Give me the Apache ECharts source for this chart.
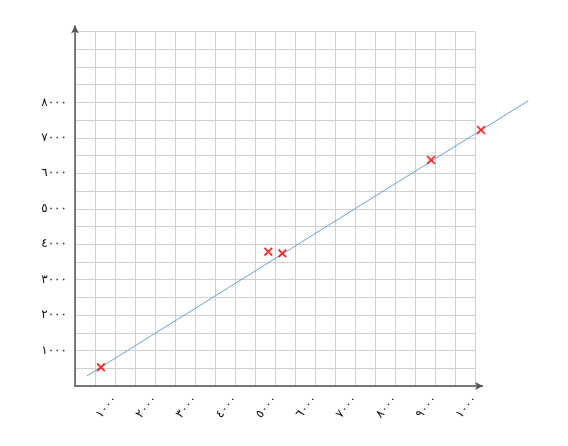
<!DOCTYPE html>
<html>
<head>
<meta charset="utf-8">
<style>
  html, body { margin: 0; padding: 0; background: #fff; }
  #chart { width: 568px; height: 446px; }
</style>
<script src="https://cdn.jsdelivr.net/npm/echarts@6/dist/echarts.min.js"></script>
</head>
<body>
<div id="chart"></div>
<script>
// measured points (red crosses)
const pointsX = [650, 4833, 5183, 8900, 10150];
const pointsY = [527, 3788, 3743, 6375, 7221];

// fitted line, two ends
const fitX = [292, 11333];
const fitY = [282, 8048];

// tick labels every 1000
const xTickLabels = ['١٠٠٠', '٢٠٠٠', '٣٠٠٠', '٤٠٠٠', '٥٠٠٠', '٦٠٠٠', '٧٠٠٠', '٨٠٠٠', '٩٠٠٠', '١٠٠٠'];
const yTickLabels = ['١٠٠٠', '٢٠٠٠', '٣٠٠٠', '٤٠٠٠', '٥٠٠٠', '٦٠٠٠', '٧٠٠٠', '٨٠٠٠'];

const chart = echarts.init(document.getElementById('chart'));

const crossPath = 'path://M0,1.5L1.5,0L5,3.5L8.5,0L10,1.5L6.5,5L10,8.5L8.5,10L5,6.5L1.5,10L0,8.5L3.5,5Z';
const axisColor = '#555';
const pxPerUnitX = 400 / 10000;   // main grid is 400px wide for 0..10000

const tickLabel = (labels) => (v) => {
  if (v % 1000 !== 0) return '';
  return labels[v / 1000 - 1] || '';
};

// second, invisible grid with the same scale but wider, so the fit line may run past the plot
const wideMax = 12000;
const wideRight = 568 - (75 + wideMax * pxPerUnitX);

chart.setOption({
  animation: false,
  grid: [
    { left: 75, right: 93, top: 31.5, bottom: 60 },
    { left: 75, right: wideRight, top: 31.5, bottom: 60 }
  ],
  xAxis: [
    {
      type: 'value',
      gridIndex: 0,
      min: 0,
      max: 10000,
      interval: 500,
      axisLine: {
        show: true,
        lineStyle: { color: axisColor, width: 1.5 },
        symbol: ['none', 'arrow'],
        symbolSize: [6, 8],
        symbolOffset: [0, 8]
      },
      axisTick: { show: false },
      splitLine: { show: true, lineStyle: { color: '#cfcfcf', width: 1 } },
      axisLabel: {
        rotate: 50,
        fontSize: 12,
        fontFamily: 'DejaVu Sans',
        color: '#111',
        margin: 11,
        formatter: tickLabel(xTickLabels)
      }
    },
    { type: 'value', gridIndex: 1, min: 0, max: wideMax, show: false }
  ],
  yAxis: [
    {
      type: 'value',
      gridIndex: 0,
      min: 0,
      max: 10000,
      interval: 500,
      axisLine: {
        show: true,
        lineStyle: { color: axisColor, width: 1.5 },
        symbol: ['none', 'arrow'],
        symbolSize: [6, 8],
        symbolOffset: [0, 6]
      },
      axisTick: { show: false },
      splitLine: { show: true, lineStyle: { color: '#cfcfcf', width: 1 } },
      axisLabel: {
        fontSize: 12,
        fontFamily: 'DejaVu Sans',
        color: '#111',
        margin: 8,
        formatter: tickLabel(yTickLabels)
      }
    },
    { type: 'value', gridIndex: 1, min: 0, max: 10000, show: false }
  ],
  series: [
    {
      type: 'line',
      xAxisIndex: 1,
      yAxisIndex: 1,
      data: fitX.map((x, i) => [x, fitY[i]]),
      showSymbol: false,
      lineStyle: { color: '#6a9fd8', width: 1 },
      z: 2
    },
    {
      type: 'scatter',
      xAxisIndex: 1,
      yAxisIndex: 1,
      data: pointsX.map((x, i) => [x, pointsY[i]]),
      symbol: crossPath,
      symbolSize: 9,
      itemStyle: { color: '#ff0000' },
      z: 3
    }
  ]
});

// extend the axis lines up to the arrow heads
const origin = chart.convertToPixel({ gridIndex: 0 }, [0, 0]);
const xEnd = chart.convertToPixel({ gridIndex: 0 }, [10000, 0]);
const yEnd = chart.convertToPixel({ gridIndex: 0 }, [0, 10000]);
chart.setOption({
  graphic: [
    { type: 'line', shape: { x1: xEnd[0], y1: origin[1], x2: xEnd[0] + 8, y2: origin[1] }, style: { stroke: axisColor, lineWidth: 1.5 }, z: 10 },
    { type: 'line', shape: { x1: origin[0], y1: yEnd[1], x2: origin[0], y2: yEnd[1] - 6 }, style: { stroke: axisColor, lineWidth: 1.5 }, z: 10 }
  ]
});
</script>
</body>
</html>
